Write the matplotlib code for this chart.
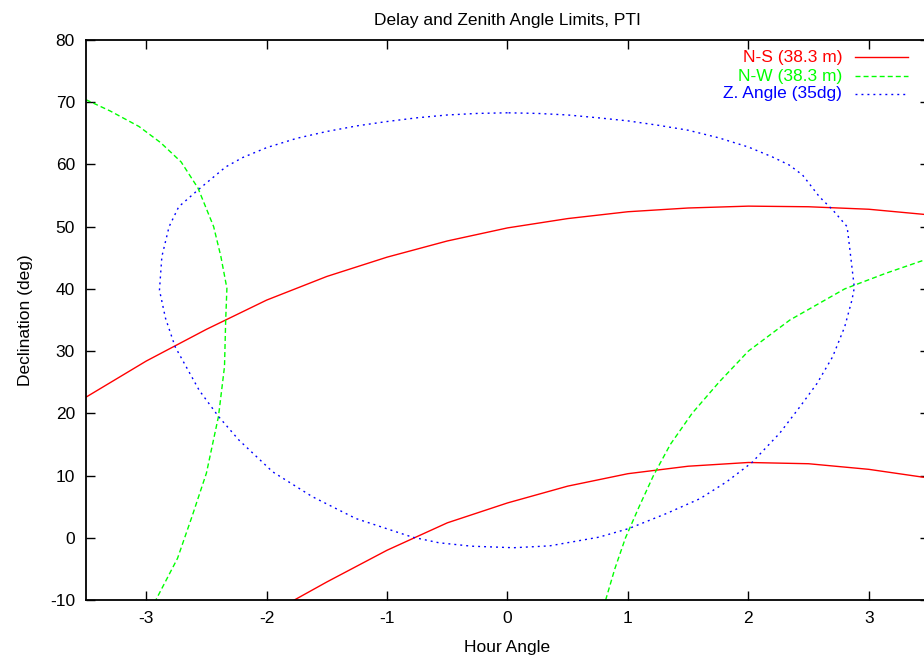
import matplotlib
matplotlib.use("Agg")
import matplotlib.pyplot as plt

plt.rcParams["font.family"] = ["Liberation Sans", "DejaVu Sans"]
plt.rcParams["font.size"] = 12.5
plt.rcParams["axes.unicode_minus"] = False

# N-S baseline delay limit, two branches (hour angle, declination)
ns_upper_ha = [-3.5, -3.0, -2.5, -2.0, -1.5, -1.0, -0.5, 0.0, 0.5, 1.0, 1.5, 2.0, 2.5, 3.0, 3.5]
ns_upper_dec = [22.6, 28.4, 33.5, 38.2, 42.0, 45.1, 47.7, 49.8, 51.3, 52.4, 53.0, 53.3, 53.2, 52.8, 51.9]
ns_lower_ha = [-1.77, -1.5, -1.0, -0.5, 0.0, 0.5, 1.0, 1.5, 2.0, 2.5, 3.0, 3.5]
ns_lower_dec = [-10.0, -7.1, -2.0, 2.4, 5.6, 8.3, 10.3, 11.5, 12.1, 11.9, 11.0, 9.6]

# N-W baseline delay limit, two branches
nw_left_ha = [-3.5, -3.3, -3.06, -2.88, -2.71, -2.57, -2.44, -2.38, -2.33, -2.34, -2.35,
              -2.40, -2.50, -2.62, -2.74, -2.92]
nw_left_dec = [70.4, 68.6, 66.1, 63.5, 60.4, 56.2, 50.0, 45.2, 40.1, 35.0, 27.5,
               19.5, 10.4, 3.4, -3.3, -10.0]
nw_right_ha = [0.815, 0.891, 0.98, 1.093, 1.212, 1.352, 1.533, 1.756, 2.0, 2.345, 2.80, 3.14, 3.5]
nw_right_dec = [-10.0, -5.0, 0.0, 5.0, 10.0, 15.0, 20.0, 25.0, 30.0, 35.0, 40.0, 42.5, 44.9]

# zenith angle limit, closed loop
za_ha = [0.0, -0.25, -0.5, -0.75, -1.0, -1.25, -1.5, -1.75, -2.0, -2.2, -2.34,
         -2.57, -2.73, -2.81, -2.87, -2.89, -2.84, -2.76, -2.56, -2.40, -2.23, -1.95,
         -1.62, -1.26, -0.79, -0.57, -0.3, 0.05, 0.35, 0.76, 1.01, 1.32, 1.60, 1.82,
         2.03, 2.26, 2.43, 2.57, 2.70, 2.80, 2.86, 2.88, 2.84, 2.82, 2.70, 2.59, 2.45,
         2.34, 2.2, 2.0, 1.75, 1.5, 1.25, 1.0, 0.75, 0.5, 0.25, 0.0]
za_dec = [68.3, 68.2, 67.95, 67.5, 66.9, 66.2, 65.3, 64.2, 62.7, 61.1, 59.6,
          55.9, 53.2, 50.0, 45.2, 39.8, 35.3, 30.7, 23.7, 19.5, 15.7, 10.6,
          6.6, 3.1, 0.1, -0.8, -1.35, -1.6, -1.3, 0.1, 1.5, 3.9, 6.3, 9.0,
          12.1, 16.8, 21.1, 24.8, 29.1, 33.9, 38.2, 40.2, 46.8, 50.0, 52.7, 54.8, 58.3,
          59.9, 61.2, 62.8, 64.3, 65.5, 66.3, 67.0, 67.5, 67.95, 68.2, 68.3]

labels = ["N-S (38.3 m)", "N-W (38.3 m)", "Z. Angle (35dg)"]
colors = ["#ff0000", "#00ff00", "#0000ff"]
styles = ["-", (0, (3.6, 2.2)), (0, (1.4, 2.9))]

fig = plt.figure(figsize=(9.24, 6.59), dpi=100)
ax = fig.add_axes([86 / 924, 59 / 659, 843 / 924, 560 / 659])

lw = 1.0
ax.plot(ns_upper_ha, ns_upper_dec, color=colors[0], linestyle=styles[0], lw=lw)
ax.plot(ns_lower_ha, ns_lower_dec, color=colors[0], linestyle=styles[0], lw=lw)
ax.plot(nw_left_ha, nw_left_dec, color=colors[1], linestyle=styles[1], lw=lw)
ax.plot(nw_right_ha, nw_right_dec, color=colors[1], linestyle=styles[1], lw=lw)
ax.plot(za_ha, za_dec, color=colors[2], linestyle=styles[2], lw=lw)

ax.set_xlim(-3.5, 3.5)
ax.set_ylim(-10, 80)
ax.set_xticks([-3, -2, -1, 0, 1, 2, 3])
ax.set_yticks(range(-10, 81, 10))
ax.tick_params(direction="in", top=True, right=True, length=6.5, width=1.0, pad=8)
for s in ax.spines.values():
    s.set_linewidth(1.3)

ax.set_title("Delay and Zenith Angle Limits, PTI", fontsize=12.5, pad=11)
ax.set_xlabel("Hour Angle", labelpad=10)
ax.set_ylabel("Declination (deg)", labelpad=12)

# gnuplot style key: right aligned labels, samples on the right
rows = [0.9696, 0.9357, 0.9036]
for lab, c, st, fy in zip(labels, colors, styles, rows):
    ax.text(0.8968, fy, lab, color=c, ha="right", va="center", transform=ax.transAxes)
    ax.plot([0.9122, 0.975], [fy, fy], color=c, linestyle=st, lw=lw,
            transform=ax.transAxes, clip_on=False)

fig.savefig("out.png", dpi=100)
